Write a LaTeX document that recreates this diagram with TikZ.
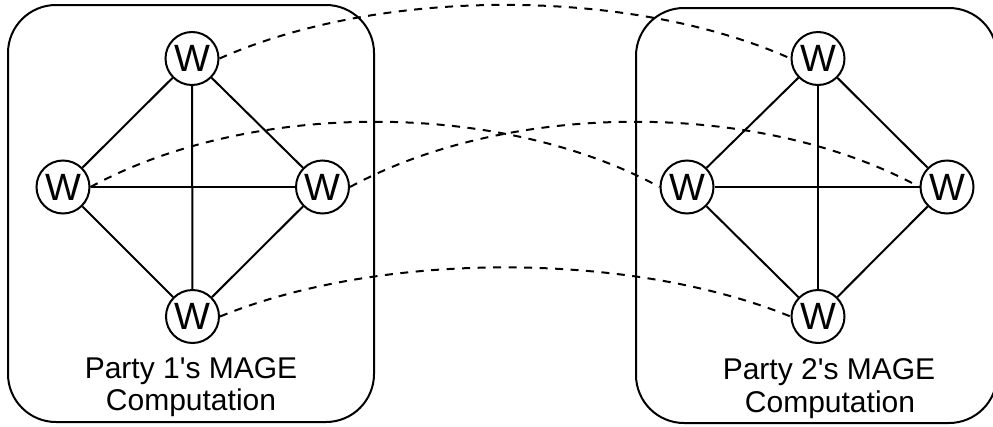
\documentclass[tikz,border=0pt]{standalone}
\usepackage{fontspec}
\setmainfont{Liberation Sans}
\begin{document}
\begin{tikzpicture}[x=1pt,y=-1pt,
  wnode/.style={circle,draw,line width=2pt,minimum size=53pt,inner sep=0pt,font=\fontsize{38}{38}\selectfont},
  party/.style={rounded corners=48pt,draw,line width=2pt},
  lbl/.style={anchor=base,inner sep=0pt,font=\fontsize{30}{32}\selectfont},
  solidedge/.style={line width=2pt},
  dashedge/.style={line width=2pt,dash pattern=on 8pt off 7.5pt}]
\useasboundingbox (0,0) rectangle (993,426);
% party boxes
\draw[party] (8,5) rectangle (374,422);
\draw[party] (636,8) rectangle (997,423);
% left party nodes
\node[wnode] (Lt) at (192,58.5) {W};
\node[wnode] (Ll) at (63,187) {W};
\node[wnode] (Lr) at (322.5,187) {W};
\node[wnode] (Lb) at (192.5,316.5) {W};
% right party nodes
\node[wnode] (Rt) at (818,58.5) {W};
\node[wnode] (Rl) at (687,187) {W};
\node[wnode] (Rr) at (947,187) {W};
\node[wnode] (Rb) at (818,316.5) {W};
% labels
\node[lbl] (L1) at (191,378) {Party 1\textquotesingle s MAGE};
\node[lbl] (L2) at (191,410) {Computation};
\node[lbl] (R1) at (829,379) {Party 2\textquotesingle s MAGE};
\node[lbl] (R2) at (830,412) {Computation};
% solid edges
\foreach \p in {L,R}{
  \draw[solidedge] (\p t) -- (\p l);
  \draw[solidedge] (\p t) -- (\p r);
  \draw[solidedge] (\p t) -- (\p b);
  \draw[solidedge] (\p l) -- (\p r);
  \draw[solidedge] (\p l) -- (\p b);
  \draw[solidedge] (\p r) -- (\p b);
}
% dashed links
\draw[dashedge] (Lt.east) .. controls (380,-13) and (630,-13) .. (Rt.west);
\draw[dashedge] (Ll.east) .. controls (250,100) and (500,100) .. (Rl.west);
\draw[dashedge] (Lr.east) .. controls (510,100) and (760,100) .. (Rr.west);
\draw[dashedge] (Lb.east) .. controls (380,251) and (630,251) .. (Rb.west);
\end{tikzpicture}
\end{document}
